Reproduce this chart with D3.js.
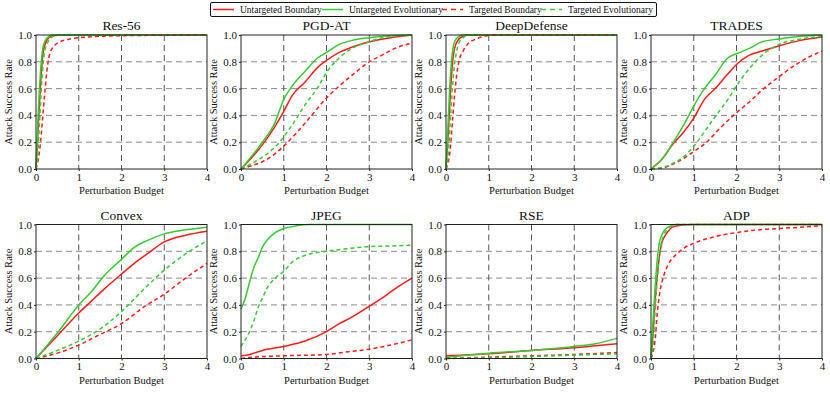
<!DOCTYPE html>
<html>
<head>
<meta charset="utf-8">
<script src="https://cdn.jsdelivr.net/npm/d3@7"></script>
<style>
  body { margin: 0; background: #fff; }
  svg text { font-family: "Liberation Serif", "Times New Roman", Times, serif !important; font-weight: normal; }
</style>
</head>
<body>
<div id="chart"></div>
<script>
// panel titles, series names, ticks
const panelNames = ["Res-56", "PGD-AT", "DeepDefense", "TRADES", "Convex", "JPEG", "RSE", "ADP"];
const seriesNames = ["Untargeted Boundary", "Untargeted Evolutionary", "Targeted Boundary", "Targeted Evolutionary"];
const xTicks = [0, 1, 2, 3, 4];
const yTicks = [0, 0.2, 0.4, 0.6, 0.8, 1.0];

// each panel: [untargeted boundary, untargeted evolutionary, targeted boundary, targeted evolutionary]
// points are [budget, success rate]
const res56 = [
  [[0,0],[0.05,0.3],[0.1,0.6],[0.15,0.82],[0.2,0.92],[0.3,0.98],[0.4,0.995],[0.6,1],[4,1]],
  [[0,0],[0.05,0.4],[0.1,0.7],[0.15,0.88],[0.2,0.95],[0.3,0.99],[0.4,1],[4,1]],
  [[0,0],[0.1,0.18],[0.15,0.36],[0.2,0.55],[0.25,0.72],[0.3,0.83],[0.4,0.91],[0.6,0.955],[0.8,0.97],[1.2,0.985],[2,0.995],[4,1]],
  [[0,0],[0.05,0.15],[0.1,0.45],[0.15,0.72],[0.2,0.87],[0.3,0.96],[0.4,0.99],[0.5,1],[4,1]]
];
const pgdat = [
  [[0,0],[0.5,0.18],[0.8,0.32],[1.0,0.43],[1.2,0.55],[1.5,0.65],[1.8,0.76],[2.0,0.81],[2.3,0.87],[2.6,0.91],[3.0,0.95],[3.5,0.98],[4,1]],
  [[0,0],[0.5,0.2],[0.8,0.35],[1.0,0.52],[1.2,0.62],[1.5,0.73],[1.8,0.83],[2.0,0.87],[2.3,0.93],[2.6,0.96],[3.0,0.98],[3.5,0.995],[4,1]],
  [[0,0],[0.3,0.03],[0.6,0.07],[1.0,0.17],[1.3,0.27],[1.6,0.38],[2.0,0.53],[2.3,0.62],[2.6,0.7],[3.0,0.8],[3.3,0.85],[3.6,0.9],[4,0.94]],
  [[0,0],[0.3,0.05],[0.6,0.11],[0.9,0.2],[1.2,0.33],[1.5,0.48],[1.8,0.61],[2.0,0.72],[2.3,0.83],[2.6,0.9],[3.0,0.95],[3.3,0.98],[3.5,0.99],[4,1]]
];
const deepDefense = [
  [[0,0],[0.05,0.25],[0.1,0.55],[0.15,0.78],[0.2,0.9],[0.3,0.97],[0.4,0.99],[0.5,1],[4,1]],
  [[0,0],[0.05,0.35],[0.1,0.68],[0.15,0.87],[0.2,0.95],[0.3,0.99],[0.4,1],[4,1]],
  [[0,0],[0.1,0.15],[0.15,0.35],[0.2,0.55],[0.25,0.7],[0.3,0.8],[0.4,0.88],[0.5,0.93],[0.7,0.97],[0.9,0.99],[1.1,1],[4,1]],
  [[0,0],[0.05,0.1],[0.1,0.35],[0.15,0.6],[0.2,0.78],[0.25,0.88],[0.3,0.94],[0.4,0.98],[0.5,1],[4,1]]
];
const trades = [
  [[0,0],[0.25,0.07],[0.5,0.18],[0.75,0.27],[1.0,0.38],[1.25,0.52],[1.5,0.6],[1.8,0.71],[2.0,0.78],[2.3,0.85],[2.6,0.88],[3.0,0.92],[3.5,0.96],[4,0.985]],
  [[0,0],[0.25,0.07],[0.5,0.19],[0.75,0.32],[1.0,0.47],[1.25,0.6],[1.5,0.7],[1.8,0.83],[2.0,0.86],[2.3,0.9],[2.6,0.95],[3.0,0.97],[3.5,0.99],[4,1]],
  [[0,0],[0.3,0.01],[0.6,0.05],[1.0,0.13],[1.3,0.2],[1.6,0.3],[2.0,0.42],[2.3,0.5],[2.6,0.59],[3.0,0.69],[3.3,0.76],[3.6,0.82],[4,0.88]],
  [[0,0],[0.25,0.01],[0.5,0.04],[0.8,0.1],[1.0,0.17],[1.3,0.3],[1.5,0.39],[1.8,0.52],[2.0,0.62],[2.3,0.75],[2.6,0.85],[3.0,0.93],[3.5,0.97],[4,0.99]]
];
const convex = [
  [[0,0],[0.5,0.17],[1.0,0.34],[1.3,0.43],[1.6,0.52],[2.0,0.63],[2.3,0.71],[2.6,0.78],[3.0,0.87],[3.5,0.92],[4,0.95]],
  [[0,0],[0.5,0.19],[1.0,0.4],[1.3,0.5],[1.6,0.62],[2.0,0.74],[2.3,0.83],[2.6,0.88],[3.0,0.93],[3.5,0.96],[4,0.98]],
  [[0,0],[0.5,0.04],[1.0,0.1],[1.5,0.18],[2.0,0.26],[2.5,0.38],[3.0,0.48],[3.5,0.6],[4,0.71]],
  [[0,0],[0.5,0.06],[1.0,0.13],[1.5,0.22],[2.0,0.35],[2.5,0.51],[3.0,0.66],[3.5,0.78],[4,0.88]]
];
const jpeg = [
  [[0,0.02],[0.2,0.03],[0.5,0.06],[1.0,0.09],[1.5,0.13],[2.0,0.2],[2.3,0.26],[2.6,0.31],[3.0,0.39],[3.3,0.45],[3.6,0.52],[4,0.6]],
  [[0,0.37],[0.1,0.45],[0.2,0.57],[0.3,0.68],[0.4,0.75],[0.5,0.83],[0.6,0.88],[0.8,0.94],[1.0,0.97],[1.3,0.99],[1.6,1],[4,1]],
  [[0,0],[0.3,0.01],[1.0,0.02],[2.0,0.03],[2.5,0.05],[3.0,0.07],[3.5,0.1],[4,0.14]],
  [[0,0.09],[0.1,0.14],[0.2,0.2],[0.3,0.28],[0.4,0.38],[0.5,0.45],[0.6,0.52],[0.8,0.6],[1.0,0.65],[1.2,0.72],[1.5,0.77],[2.0,0.8],[2.5,0.82],[3.0,0.835],[3.5,0.84],[4,0.845]]
];
const rse = [
  [[0,0.02],[1.0,0.035],[2.0,0.06],[3.0,0.08],[3.5,0.095],[4,0.11]],
  [[0,0.01],[1.0,0.04],[2.0,0.06],[3.0,0.09],[3.5,0.11],[4,0.15]],
  [[0,0],[1.0,0.01],[2.0,0.02],[3.0,0.03],[4,0.045]],
  [[0,0],[1.0,0.005],[2.0,0.015],[3.0,0.025],[4,0.035]]
];
const adp = [
  [[0,0],[0.05,0.2],[0.1,0.45],[0.15,0.63],[0.2,0.77],[0.25,0.86],[0.3,0.9],[0.4,0.95],[0.5,0.98],[0.7,0.995],[1,1],[4,1]],
  [[0,0],[0.05,0.3],[0.1,0.55],[0.15,0.75],[0.2,0.87],[0.3,0.95],[0.4,0.98],[0.5,0.995],[0.6,1],[4,1]],
  [[0,0],[0.1,0.15],[0.15,0.35],[0.2,0.48],[0.3,0.62],[0.4,0.7],[0.6,0.78],[0.8,0.83],[1.0,0.86],[1.5,0.91],[2.0,0.94],[2.5,0.96],[3.0,0.97],[3.5,0.98],[4,0.99]],
  [[0,0],[0.05,0.1],[0.1,0.38],[0.15,0.6],[0.2,0.78],[0.3,0.92],[0.4,0.97],[0.5,0.99],[0.6,1],[4,1]]
];
const panelData = [res56, pgdat, deepDefense, trades, convex, jpeg, rse, adp];

const colors = ["#ff1a1a", "#33cc33", "#ff1a1a", "#33cc33"];
const dashes = [null, null, "4,3", "4,3"];

const width = 830, height = 393;
const pw = 171, ph = 134;
const lefts = [36, 241, 446, 651];
const tops = [35, 224.5];

const svg = d3.select("#chart").append("svg")
  .attr("width", width).attr("height", height);

const x = d3.scaleLinear().domain([0, 4]).range([0, pw]);
const y = d3.scaleLinear().domain([0, 1]).range([ph, 0]);
const line = d3.line().x(d => x(d[0])).y(d => y(d[1])).curve(d3.curveMonotoneX);

panelNames.forEach((name, i) => {
  const g = svg.append("g")
    .attr("transform", `translate(${lefts[i % 4]},${tops[Math.floor(i / 4)]})`);

  // grid
  g.append("g").selectAll("line").data(yTicks.slice(1, -1)).join("line")
    .attr("x1", 0).attr("x2", pw).attr("y1", d => y(d)).attr("y2", d => y(d))
    .attr("stroke", "#8a8a8a").attr("stroke-width", 1).attr("stroke-dasharray", "6,4");
  g.append("g").selectAll("line").data(xTicks.slice(1, -1)).join("line")
    .attr("y1", 0).attr("y2", ph).attr("x1", d => x(d)).attr("x2", d => x(d))
    .attr("stroke", "#555").attr("stroke-width", 1).attr("stroke-dasharray", "6,4");

  // curves
  g.append("g").selectAll("path").data(panelData[i]).join("path")
    .attr("d", line)
    .attr("fill", "none")
    .attr("stroke", (d, j) => colors[j])
    .attr("stroke-width", 1.5)
    .attr("stroke-dasharray", (d, j) => dashes[j]);

  // frame
  g.append("rect").attr("width", pw).attr("height", ph)
    .attr("fill", "none").attr("stroke", "#222").attr("stroke-width", 1);

  // axes
  const xa = g.append("g").attr("transform", `translate(0,${ph})`)
    .call(d3.axisBottom(x).tickValues(xTicks).tickFormat(d3.format("d")).tickSize(2).tickPadding(2));
  const ya = g.append("g")
    .call(d3.axisLeft(y).tickValues(yTicks).tickFormat(d3.format(".1f")).tickSize(2).tickPadding(2));
  [xa, ya].forEach(a => {
    a.select(".domain").remove();
    a.selectAll("line").attr("stroke", "#222");
    a.selectAll("text").attr("font-size", 11).attr("fill", "#111");
  });

  g.append("text").attr("x", pw / 2).attr("y", -5).attr("text-anchor", "middle")
    .attr("font-size", 13.5).attr("fill", "#111").text(name);
  g.append("text").attr("x", pw / 2).attr("y", ph + 25).attr("text-anchor", "middle")
    .attr("font-size", 10.5).attr("fill", "#111").text("Perturbation Budget");
  g.append("text").attr("transform", `translate(-24,${ph / 2}) rotate(-90)`)
    .attr("text-anchor", "middle").attr("font-size", 10.5).attr("fill", "#111")
    .text("Attack Success Rate");
});

// legend
const legend = svg.append("g");
legend.append("rect").attr("x", 210.5).attr("y", 2.5).attr("width", 446).attr("height", 14)
  .attr("rx", 1.5).attr("fill", "#fff").attr("stroke", "#111").attr("stroke-width", 1);
const legX = [213, 322, 442, 541];
seriesNames.forEach((s, j) => {
  legend.append("line").attr("x1", legX[j]).attr("x2", legX[j] + 21)
    .attr("y1", 9.5).attr("y2", 9.5)
    .attr("stroke", colors[j]).attr("stroke-width", 1.5).attr("stroke-dasharray", dashes[j] ? "5,4" : null);
  legend.append("text").attr("x", legX[j] + 27).attr("y", 12.5)
    .attr("font-size", 9.5).attr("fill", "#111").text(s);
});
</script>
</body>
</html>
